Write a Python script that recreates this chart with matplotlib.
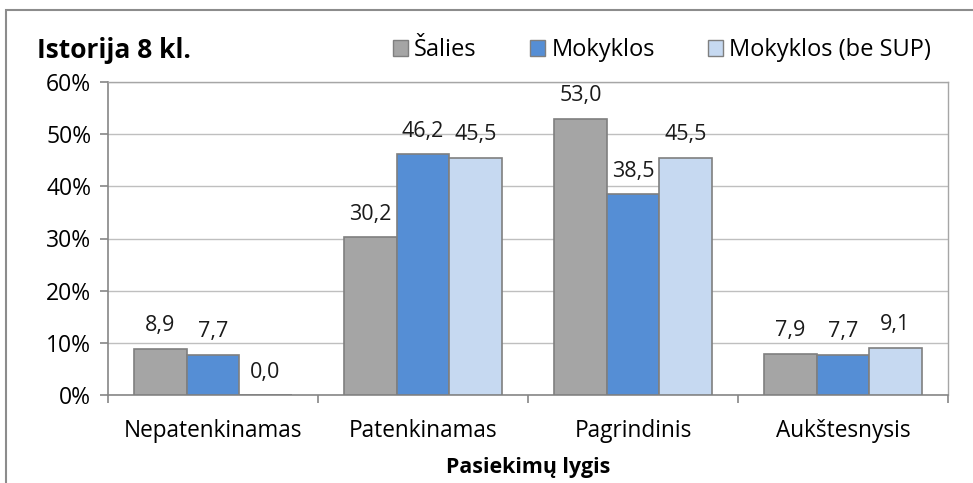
import matplotlib
matplotlib.use("Agg")
import matplotlib.pyplot as plt
from matplotlib.patches import Rectangle, Patch
import numpy as np

categories = ["Nepatenkinamas", "Patenkinamas", "Pagrindinis", "Aukštesnysis"]
series_names = ["Šalies", "Mokyklos", "Mokyklos (be SUP)"]
salies = [8.9, 30.2, 53.0, 7.9]
mokyklos = [7.7, 46.2, 38.5, 7.7]
mokyklos_be_sup = [0.0, 45.5, 45.5, 9.1]
yticks = [0, 10, 20, 30, 40, 50, 60]
ytick_labels = ["0%", "10%", "20%", "30%", "40%", "50%", "60%"]
title = "Istorija 8 kl."
xlabel = "Pasiekimų lygis"

colors = ["#A5A5A5", "#558ED5", "#C6D9F1"]
edge = "#7F7F7F"
FONT = "Open Sans"
plt.rcParams['font.family'] = [FONT, 'DejaVu Sans']

fig = plt.figure(figsize=(9.73, 4.83), dpi=100)
ax = fig.add_axes([108/973, 1-395/483, (948-108)/973, (395-82)/483])

# outer chart border
fig.patches.append(Rectangle((6/973, -0.5), 1.5, 0.5 + 1 - 10/483, transform=fig.transFigure,
                             fill=False, edgecolor="#8C8C8C", linewidth=1.5, zorder=0))

x = np.arange(len(categories))
w = 0.25
data = [salies, mokyklos, mokyklos_be_sup]
for i, (vals, c) in enumerate(zip(data, colors)):
    pos = x + (i - 1) * w
    ax.bar(pos, vals, width=w, color=c, edgecolor=edge, linewidth=1.2, zorder=3)
    for p, v in zip(pos, vals):
        ax.annotate(f"{v:.1f}".replace(".", ","), (p, v), xytext=(0, 12.5),
                    textcoords="offset points", ha="center", va="baseline",
                    fontsize=15.5, color="#1a1a1a", zorder=4)

ax.set_xlim(-0.5, len(categories) - 0.5)
ax.set_ylim(0, 60)
ax.set_yticks(yticks)
ax.set_yticklabels(ytick_labels, fontsize=16.5)
ax.yaxis.grid(True, color="#BFBFBF", linewidth=1.0, zorder=0)
ax.set_axisbelow(True)
ax.set_xticks(x)
ax.set_xticklabels(categories, fontsize=16.3)
ax.tick_params(axis="x", length=0, pad=17)
ax.tick_params(axis="y", length=6, color="#868686", pad=6, width=1.2)
ax.set_xticks(np.arange(len(categories) + 1) - 0.5, minor=True)
ax.tick_params(axis="x", which="minor", length=6, color="#868686", width=1.2)
for s in ["top", "right"]:
    ax.spines[s].set_color("#A6A6A6")
    ax.spines[s].set_linewidth(1.0)
for s in ["left", "bottom"]:
    ax.spines[s].set_color("#868686")
    ax.spines[s].set_linewidth(1.2)

ax.set_xlabel(xlabel, fontsize=15.4, fontweight="bold", labelpad=10)

fig.text(37/973, 1-50/483, title, fontsize=19, fontweight="bold", ha="left", va="center")

handles = [Patch(facecolor=c, edgecolor=edge, linewidth=1.0) for c in colors]
fig.legend(handles, series_names, loc="center right", bbox_to_anchor=(931/973, 1-50/483),
           ncol=3, frameon=False, fontsize=17, handlelength=0.65, handleheight=0.65,
           handletextpad=0.25, columnspacing=2.25, borderaxespad=0, borderpad=0)

fig.savefig("out.png", dpi=100)
